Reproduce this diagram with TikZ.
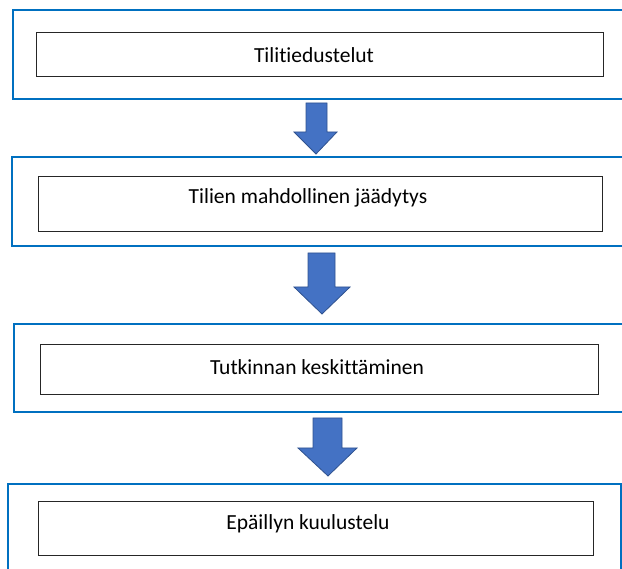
\documentclass[tikz,border=0pt]{standalone}
\usepackage{fontspec}
\setmainfont{Carlito}[Ligatures={NoCommon}]
\usetikzlibrary{calc}
\definecolor{outerblue}{RGB}{0,112,192}
\definecolor{arrowfill}{RGB}{68,114,196}
\definecolor{arrowline}{RGB}{47,82,143}
\begin{document}
\begin{tikzpicture}[x=1pt,y=-1pt,
  outerbox/.style={draw=outerblue,line width=2pt},
  innerbox/.style={draw=black!85,line width=1pt},
  lbl/.style={font=\fontsize{21.5}{24}\selectfont,inner sep=0pt},
  blockarrow/.style={fill=arrowfill,draw=arrowline,line width=0.8pt,line join=miter}]
\useasboundingbox (0,0) rectangle (622,569);
\begin{scope}
\clip (0,0) rectangle (622,569);
% outer boxes
\draw[outerbox] (13,10) coordinate (o1) rectangle (640,99);
\draw[outerbox] (12,157) coordinate (o2) rectangle (640,246);
\draw[outerbox] (14,324) coordinate (o3) rectangle (640,412);
\draw[outerbox] (8,484) coordinate (o4) rectangle (621,590);
\end{scope}
% inner boxes
\draw[innerbox] (36,33) rectangle (603,77);
\draw[innerbox] (38,177) rectangle (602,232);
\draw[innerbox] (40,345) rectangle (598,395);
\draw[innerbox] (38,502) rectangle (593,556);
% labels
\node[lbl] (t1) at (314,55) {Tilitiedustelut};
\node[lbl] (t2) at (308,198) {Tilien mahdollinen jäädytys};
\node[lbl] (t3) at (317,367) {Tutkinnan keskittäminen};
\node[lbl] (t4) at (308,524) {Epäillyn kuulustelu};
% block arrows
\draw[blockarrow] (306,103) -- (327,103) -- (327,132) -- (337,132) -- (316,154) -- (294,132) -- (306,132) -- cycle;
\draw[blockarrow] (308,253) -- (335,253) -- (335,287) -- (350,287) -- (322,314) -- (294,287) -- (308,287) -- cycle;
\draw[blockarrow] (313,418) -- (342,418) -- (342,448) -- (357,448) -- (328,476) -- (298,448) -- (313,448) -- cycle;
\end{tikzpicture}
\end{document}
